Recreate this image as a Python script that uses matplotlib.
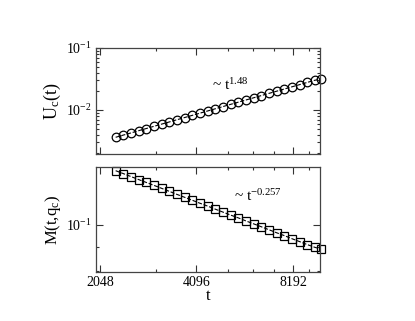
import numpy as np
import matplotlib
matplotlib.use('Agg')
import matplotlib.pyplot as plt
from matplotlib.ticker import FixedLocator, NullFormatter, LogLocator

plt.rcParams['font.family'] = ['Liberation Serif', 'DejaVu Serif']
plt.rcParams['mathtext.fontset'] = 'custom'
plt.rcParams['mathtext.rm'] = 'Liberation Serif'
plt.rcParams['mathtext.it'] = 'Liberation Serif:italic'

t = [2292, 2422, 2559, 2704, 2857, 3018, 3189, 3370, 3560, 3762,
     3975, 4200, 4438, 4689, 4954, 5234, 5531, 5844, 6174, 6524,
     6893, 7283, 7695, 8131, 8591, 9077, 9591, 10000]

U_c = [0.00363, 0.00394, 0.00427, 0.00464, 0.00503, 0.00546, 0.00592,
       0.00642, 0.00697, 0.00756, 0.00820, 0.00890, 0.00965, 0.01047,
       0.01136, 0.01233, 0.01338, 0.01451, 0.01574, 0.01708, 0.01853,
       0.02010, 0.02181, 0.02366, 0.02567, 0.02785, 0.03021, 0.03150]

M = [0.1295, 0.1277, 0.1259, 0.1241, 0.1224, 0.1207, 0.1190, 0.1173,
     0.1156, 0.1140, 0.1124, 0.1108, 0.1093, 0.1077, 0.1062, 0.1047,
     0.1033, 0.1018, 0.1004, 0.0990, 0.0976, 0.0962, 0.0949, 0.0935,
     0.0922, 0.0909, 0.0897, 0.0890]

xticks = [2048, 4096, 8192]
xminor = [3072, 5120, 6144, 7168, 9216]

fig = plt.figure(figsize=(4.15, 3.21), dpi=100)
ax1 = fig.add_axes([0.2313, 0.5202, 0.5398, 0.3302])
ax2 = fig.add_axes([0.2313, 0.1526, 0.5398, 0.3271])

ax1.plot(t, U_c, ls='--', color='k', lw=0.8, marker='o', ms=6.2,
         mfc='none', mec='k', mew=0.9, clip_on=False)
ax2.plot(t, M, ls='--', color='k', lw=0.8, marker='s', ms=5.8,
         mfc='none', mec='k', mew=0.9, clip_on=False)

for ax in (ax1, ax2):
    ax.set_xscale('log', base=2)
    ax.set_yscale('log')
    ax.set_xlim(1990, 9950)
    ax.xaxis.set_major_locator(FixedLocator(xticks))
    ax.xaxis.set_minor_locator(FixedLocator(xminor))
    ax.xaxis.set_minor_formatter(NullFormatter())
    ax.tick_params(which='both', direction='in', top=True, right=True,
                   labelsize=10, color='#333333', width=0.8, pad=3)
    ax.tick_params(which='major', length=5)
    ax.tick_params(which='minor', length=2.5)
    for s in ax.spines.values():
        s.set_color('#444444')
        s.set_linewidth(0.9)

ax1.set_xticklabels([])
ax1.set_ylim(0.00195, 0.1)
ax1.yaxis.set_major_locator(LogLocator(base=10, numticks=10))
ax1.yaxis.set_minor_locator(LogLocator(base=10, subs=np.arange(2, 10), numticks=10))
ax1.yaxis.set_minor_formatter(NullFormatter())
ax1.set_ylabel(r'U$_{\rm c}$(t)', fontsize=13, labelpad=2)
ax1.text(0.52, 0.60, r'~ t$^{1.48}$', transform=ax1.transAxes, fontsize=11)

ax2.set_xticklabels(['2048', '4096', '8192'])
ax2.set_ylim(0.0797, 0.1318)
ax2.yaxis.set_major_locator(FixedLocator([0.1]))
ax2.yaxis.set_minor_locator(FixedLocator([0.08, 0.09]))
ax2.yaxis.set_minor_formatter(NullFormatter())
ax2.set_yticklabels([r'10$^{-1}$'])
ax2.set_ylabel(r'M(t,q$_{\rm c}$)', fontsize=12, labelpad=2)
ax2.set_xlabel('t', fontsize=12, labelpad=-1)
ax2.text(0.615, 0.68, r'~ t$^{-0.257}$', transform=ax2.transAxes, fontsize=11)

fig.savefig('out.png', dpi=100)
